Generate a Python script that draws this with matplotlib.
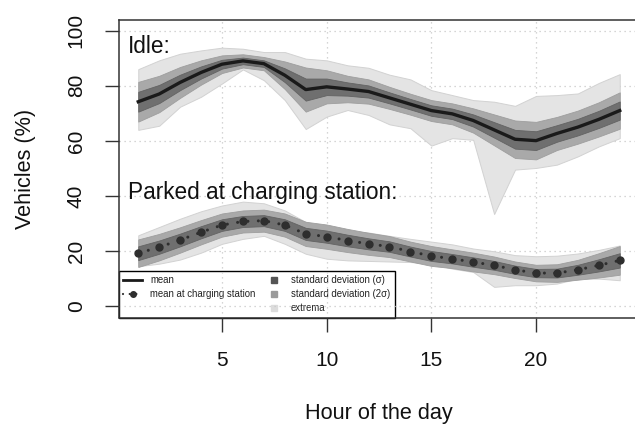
import numpy as np
import matplotlib
matplotlib.use("Agg")
import matplotlib.pyplot as plt
from matplotlib.lines import Line2D

plt.rcParams["font.family"] = ["Liberation Sans", "DejaVu Sans"]

# hour of the day
hours = np.arange(1, 25)

# idle vehicles (%)
idle_mean = [74.2, 77.0, 81.2, 84.8, 87.8, 89.0, 88.0, 83.8, 78.6, 79.6, 78.8, 77.9,
             75.6, 73.3, 71.0, 69.8, 67.4, 64.0, 60.6, 60.1, 62.7, 65.0, 67.8, 71.0]
idle_sd = [3.6, 3.3, 2.8, 2.2, 1.6, 1.2, 1.2, 2.5, 4.0, 3.0, 2.4, 2.2,
           2.0, 1.9, 1.9, 1.9, 2.2, 2.8, 3.4, 3.4, 3.0, 3.0, 3.1, 3.3]
idle_max = [86.0, 89.2, 91.6, 92.8, 93.8, 93.4, 92.2, 92.2, 89.8, 89.2, 87.4, 86.5,
            84.0, 82.3, 78.4, 76.6, 74.8, 74.2, 72.7, 76.3, 76.6, 77.2, 81.0, 84.2]
idle_min = [64.0, 65.5, 72.4, 76.0, 80.8, 85.9, 82.0, 74.8, 64.3, 68.8, 71.2, 69.4,
            66.0, 64.6, 58.3, 61.0, 60.4, 33.5, 49.6, 50.2, 51.4, 54.4, 58.0, 61.0]

# vehicles parked at a charging station (%)
park_mean = [19.3, 21.5, 24.1, 26.9, 29.5, 30.8, 31.1, 29.5, 26.3, 25.3, 23.9, 22.7,
             21.7, 19.9, 18.3, 17.3, 16.1, 14.9, 13.3, 12.1, 12.1, 13.3, 14.9, 16.7]
park_sd = [2.5, 2.4, 2.3, 2.2, 2.1, 2.0, 2.0, 2.1, 2.2, 2.2, 2.1, 2.0,
           1.9, 1.8, 1.8, 1.7, 1.7, 1.6, 1.5, 1.5, 1.6, 1.8, 2.2, 2.6]
park_max = [25.8, 28.8, 31.8, 34.5, 36.6, 38.0, 37.4, 34.8, 30.6, 28.4, 27.4, 26.8,
            25.6, 24.5, 23.5, 22.5, 21.0, 20.0, 18.6, 18.2, 18.4, 19.2, 20.5, 22.1]
park_min = [14.6, 15.5, 17.0, 19.5, 22.7, 24.5, 25.6, 22.7, 19.1, 17.3, 16.7, 16.5,
            16.3, 16.1, 15.5, 13.7, 12.5, 7.1, 7.7, 7.7, 8.3, 10.1, 10.1, 9.5]

C_EXT = "#e4e4e4"
C_2SD = "#a9a9a9"
C_1SD = "#6f6f6f"
C_LINE = "#1a1a1a"
C_DOT = "#2e2e2e"


def bands(ax, mean, sd, lo, hi):
    mean = np.asarray(mean)
    sd = np.asarray(sd)
    ax.fill_between(hours, lo, hi, color=C_EXT, edgecolor="#d2d2d2", lw=0.7, zorder=2)
    ax.fill_between(hours, mean - 2 * sd, mean + 2 * sd, color=C_2SD, edgecolor="#9e9e9e", lw=0.6, zorder=3)
    ax.fill_between(hours, mean - sd, mean + sd, color=C_1SD, edgecolor="#636363", lw=0.6, zorder=4)


fig = plt.figure(figsize=(6.35, 4.25), dpi=100)
ax = fig.add_axes([119 / 635, 1 - 317.5 / 425, 520 / 635, 298 / 425])

bands(ax, idle_mean, idle_sd, idle_min, idle_max)
ax.plot(hours, idle_mean, color=C_LINE, lw=2.4, zorder=5)

bands(ax, park_mean, park_sd, park_min, park_max)
ax.plot(hours, park_mean, color=C_DOT, lw=2.2, ls=(0, (0.01, 3.4)),
        dash_capstyle="round", zorder=5)
ax.plot(hours, park_mean, ls="none", marker="o", ms=5, color=C_DOT, zorder=6)

ax.text(0.5, 91.7, "Idle:", fontsize=16.3, ha="left", va="baseline", color="#111")
ax.text(0.5, 38.8, "Parked at charging station:", fontsize=16.3, ha="left",
        va="baseline", color="#111")

ax.set_xlim(0.08, 24.92)
ax.set_ylim(-4, 104)
ax.set_xticks([5, 10, 15, 20])
ax.set_yticks([0, 20, 40, 60, 80, 100])
ax.set_axisbelow(True)
ax.grid(True, color="#c8c8c8", ls=(0, (1, 3)), lw=0.9)
ax.tick_params(direction="out", length=10, width=1, color="#333", labelsize=15,
               labelcolor="#111")
ax.tick_params(axis="x", pad=14)
ax.tick_params(axis="y", pad=14)
for lab in ax.get_yticklabels():
    lab.set_rotation(90)
    lab.set_va("center")
for sp in ax.spines.values():
    sp.set_color("#333")
    sp.set_linewidth(1.1)

ax.set_xlabel("Hour of the day", fontsize=15.6, labelpad=24, color="#111")
ax.set_ylabel("Vehicles (%)", fontsize=15.6, labelpad=22, color="#111")

handles = [
    Line2D([], [], color=C_LINE, lw=2),
    Line2D([], [], color=C_DOT, lw=1.6, ls=(0, (0.01, 3.0)), dash_capstyle="round",
           marker="o", ms=4),
    Line2D([], [], ls="none"),
    Line2D([], [], ls="none", marker="s", ms=4.5, color="#555555"),
    Line2D([], [], ls="none", marker="s", ms=4.5, color="#9a9a9a"),
    Line2D([], [], ls="none", marker="s", ms=4.5, color="#dcdcdc"),
]
labels = ["mean", "mean at charging station", "",
          "standard deviation (σ)", "standard deviation (2σ)", "extrema"]
leg = ax.legend(handles, labels, ncol=2, loc="lower left", bbox_to_anchor=(0, 0),
                borderaxespad=0, fontsize=6.9, frameon=True, fancybox=False,
                edgecolor="black", framealpha=1, handlelength=2.0, handletextpad=0.8,
                columnspacing=0.9, labelspacing=0.42, borderpad=0.45)
leg.get_frame().set_linewidth(1.0)
leg.set_zorder(0.3)
for t in leg.get_texts():
    t.set_color("#222")

fig.savefig("out.png", dpi=100)
